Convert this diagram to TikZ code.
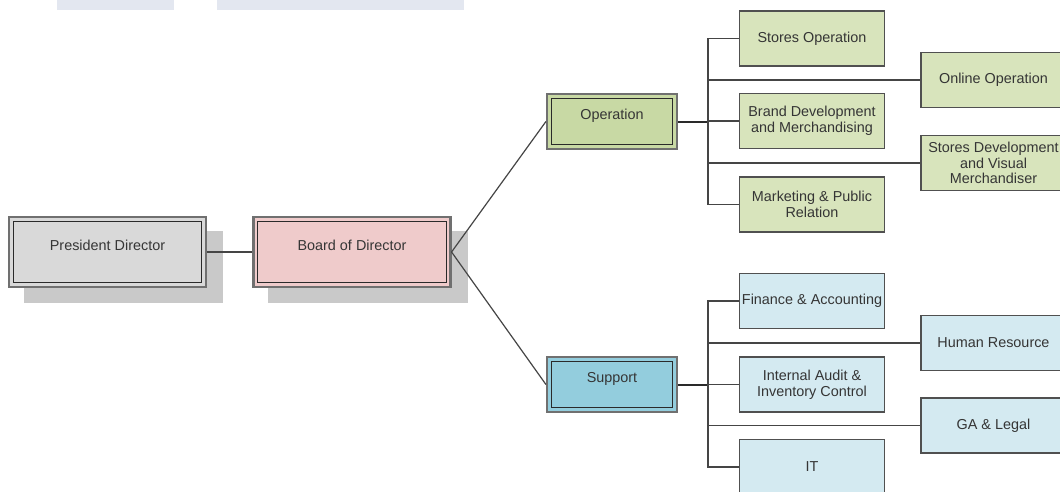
\documentclass[tikz,border=0pt]{standalone}
\usepackage{fontspec}
\setmainfont{Liberation Sans}
\usetikzlibrary{calc}
\pgfdeclarelayer{paper}
\pgfdeclarelayer{background}
\pgfsetlayers{paper,background,main}
\definecolor{topbar}{HTML}{E3E7F0}
\definecolor{txt}{HTML}{353535}
\definecolor{outerln}{HTML}{707070}
\definecolor{innerln}{HTML}{2A2A2A}
\definecolor{boxln}{HTML}{505050}
\definecolor{conn}{HTML}{454545}
\definecolor{shadowc}{HTML}{C9C9C9}
\definecolor{pdfill}{HTML}{D9D9D9}
\definecolor{bdfill}{HTML}{EFCBCB}
\definecolor{opfill}{HTML}{C8D9A4}
\definecolor{spfill}{HTML}{93CDDD}
\definecolor{grfill}{HTML}{D8E4BC}
\definecolor{blfill}{HTML}{D4EAF1}
\tikzset{
  mainbox/.style={draw=outerln, line width=1.6pt, text=txt,
    font=\fontsize{10.8}{12}\selectfont, text height=8pt, text depth=11pt,
    path picture={\draw[innerln, line width=0.8pt]
      ([shift={(3.2pt,3.2pt)}]path picture bounding box.south west) rectangle
      ([shift={(-3.2pt,-3.2pt)}]path picture bounding box.north east);}},
  bigbox/.style={mainbox, minimum width=147.75pt, minimum height=52.5pt},
  midbox/.style={mainbox, minimum width=97.5pt, minimum height=41.25pt},
  childbox/.style={draw=boxln, line width=0.9pt, text=txt, align=center,
    font=\fontsize{10.8}{11.8}\selectfont, inner sep=1pt,
    minimum width=108.75pt, minimum height=41.25pt},
  gbox/.style={childbox, fill=grfill},
  bbox/.style={childbox, fill=blfill},
  link/.style={draw=conn, line width=0.9pt},
  thicklink/.style={draw=innerln, line width=1.5pt}
}
\begin{document}
\begin{tikzpicture}[x=0.75pt, y=-0.75pt]
\clip (0,0) rectangle (1060,492);
\begin{pgfonlayer}{paper}
\fill[white] (0,0) rectangle (1060,492);
\end{pgfonlayer}
\fill[topbar] (57,0) rectangle (174,10);
\fill[topbar] (217,0) rectangle (464,10);

% main boxes
\node[bigbox, fill=pdfill] (pd) at (107.5,252) {President Director};
\node[bigbox, fill=bdfill] (bd) at (352,252) {Board of Director};
\node[midbox, fill=opfill] (op) at (612,121.5) {Operation};
\node[midbox, fill=spfill] (sp) at (612,384.5) {Support};

% shadows
\begin{pgfonlayer}{background}
\fill[shadowc] ([shift={(16,15)}]pd.north west) rectangle ([shift={(16,15)}]pd.south east);
\fill[shadowc] ([shift={(16,15)}]bd.north west) rectangle ([shift={(16,15)}]bd.south east);
\end{pgfonlayer}

% operation children
\node[gbox] (so) at (812,38.5) {Stores Operation};
\node[gbox] (oo) at (993.5,80) {Online Operation};
\node[gbox] (bm) at (812,121) {Brand Development\\and Merchandising};
\node[gbox] (sv) at (993.5,163) {Stores Development\\and Visual\\Merchandiser};
\node[gbox] (mp) at (812,204.5) {Marketing \& Public\\Relation};

% support children
\node[bbox] (fa) at (812,301) {Finance \& Accounting};
\node[bbox] (hr) at (993.5,343) {Human Resource};
\node[bbox] (ia) at (812,384.5) {Internal Audit \&\\Inventory Control};
\node[bbox] (ga) at (993.5,425.5) {GA \& Legal};
\node[bbox] (it) at (812,467) {IT};

% connectors
\draw[link] (pd.east) -- (bd.west);
\draw[link] (bd.east) -- (op.west);
\draw[link] (bd.east) -- (sp.west);

\coordinate (oj) at (708,121.5);
\coordinate (sj) at (708,384.5);
\draw[thicklink] (op.east) -- (oj);
\draw[thicklink] (sp.east) -- (sj);

\draw[link] (so.west) -- (oj |- so.west) -- (oj |- mp.west) -- (mp.west);
\draw[link] (oj |- oo.west) -- (oo.west);
\draw[link] (oj |- bm.west) -- (bm.west);
\draw[link] (oj |- sv.west) -- (sv.west);

\draw[link] (fa.west) -- (sj |- fa.west) -- (sj |- it.west) -- (it.west);
\draw[link] (sj |- hr.west) -- (hr.west);
\draw[link] (sj |- ia.west) -- (ia.west);
\draw[link] (sj |- ga.west) -- (ga.west);
\end{tikzpicture}
\end{document}
